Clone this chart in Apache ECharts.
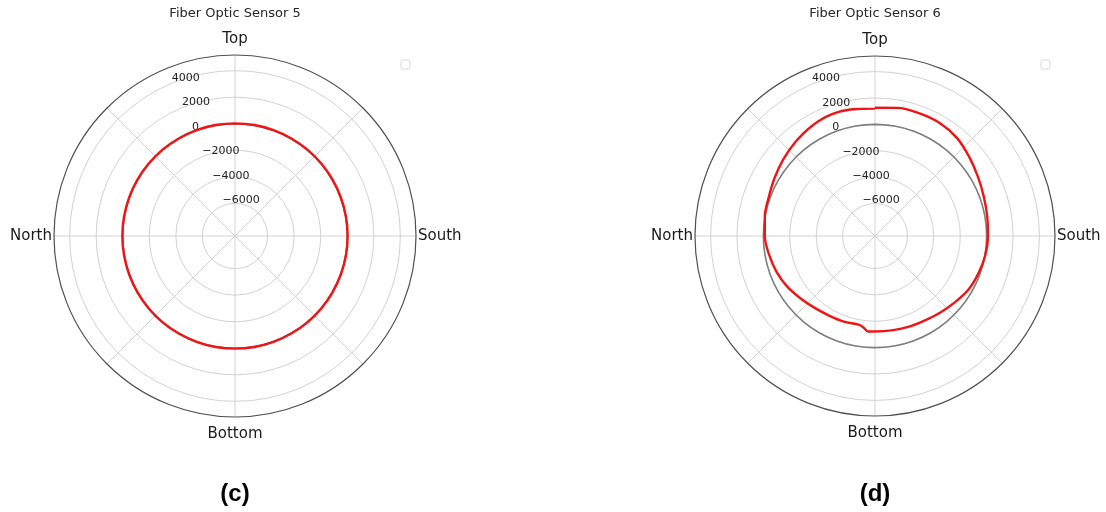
<!DOCTYPE html>
<html>
<head>
<meta charset="utf-8">
<script src="https://cdn.jsdelivr.net/npm/echarts@6/dist/echarts.min.js"></script>
<style>
  html, body { margin: 0; padding: 0; background: #fff; }
  #chart { width: 1106px; height: 512px; }
</style>
</head>
<body>
<div id="chart"></div>
<script>
// Bearing of each strain sample, degrees clockwise from "Top"
const sensor5Angles = [0, 10, 20, 30, 40, 50, 60, 70, 80, 90, 100, 110, 120, 130, 140, 150, 160, 170,
  180, 190, 200, 210, 220, 230, 240, 250, 260, 270, 280, 290, 300, 310, 320, 330, 340, 350, 360];
const sensor5Values = [30, 30, 30, 30, 30, 30, 30, 30, 30, 30, 30, 30, 30, 30, 30, 30, 30, 30,
  30, 30, 30, 30, 30, 30, 30, 30, 30, 30, 30, 30, 30, 30, 30, 30, 30, 30, 30];

const sensor6Angles = [0, 10, 20, 30, 40, 50, 60, 70, 80, 90, 100, 110, 120, 130, 140, 150, 160, 170,
  180, 184, 187, 190, 200, 210, 220, 230, 240, 250, 260, 270, 280, 290, 300, 310, 320, 330, 340, 350, 360];
const sensor6Values = [1260, 1400, 1420, 1400, 1220, 860, 540, 310, 170, 100, 20, -130, -300, -600, -850, -1040, -1130, -1200,
  -1220, -1200, -1450, -1620, -1560, -1500, -1350, -1100, -780, -520, -310, -110, 20, 110, 330, 600, 880, 1150, 1320, 1290, 1190];

// Zero-strain reference ring
const baselineAngles = sensor5Angles;
const baselineValues = [0, 0, 0, 0, 0, 0, 0, 0, 0, 0, 0, 0, 0, 0, 0, 0, 0, 0,
  0, 0, 0, 0, 0, 0, 0, 0, 0, 0, 0, 0, 0, 0, 0, 0, 0, 0, 0];

const radialTicks = [-6000, -4000, -2000, 0, 2000, 4000];
const directionLabels = { 0: '{t|Top}', 90: '{s|South}', 180: '{b|Bottom}', 270: '{n|North}' };
const panelTitles = ['Fiber Optic Sensor 5', 'Fiber Optic Sensor 6'];
const panelTags = ['(c)', '(d)'];

const RED = '#f01414';
const GRID = '#d2d2d2';
const TRANSPARENT = 'rgba(0,0,0,0)';

const pairs = (angles, values) => angles.map((a, i) => [values[i], a]);
const fmtRadial = v => radialTicks.includes(v) ? String(v).replace('-', '\u2212') : '';

const panels = [
  { cx: 235, r: 181, angles: sensor5Angles, values: sensor5Values, smooth: 0.5 },
  { cx: 875, r: 180, angles: sensor6Angles, values: sensor6Values, smooth: 0.35 }
];

const dirFont = { fontFamily: 'DejaVu Sans', fontSize: 15, color: '#1a1a1a' };

const polar = [], angleAxis = [], radiusAxis = [], series = [], graphic = [];

panels.forEach((p, i) => {
  polar.push({ center: [p.cx, 236], radius: p.r });

  // Spokes every 45 deg; the 22.5 deg offset puts the radial labels where they sit
  angleAxis.push({
    polarIndex: i,
    type: 'value',
    min: -22.5,
    max: 337.5,
    interval: 22.5,
    startAngle: 112.5,
    clockwise: true,
    axisLine: { show: true, lineStyle: { color: '#505050', width: 1.2 } },
    axisTick: { show: false },
    splitLine: { show: true, lineStyle: { color: [TRANSPARENT, GRID], width: 1 } },
    axisLabel: {
      formatter: v => directionLabels[v] || '',
      margin: 2,
      rich: {
        t: Object.assign({ padding: [0, 0, 6, 0] }, dirFont),
        b: Object.assign({ padding: [8, 0, 0, 0] }, dirFont),
        s: Object.assign({ padding: [0, 0, 0, 0] }, dirFont),
        n: Object.assign({ padding: [0, 0, 0, 0] }, dirFont)
      }
    }
  });

  radiusAxis.push({
    polarIndex: i,
    type: 'value',
    min: -8460,
    max: 5180,
    splitNumber: 7,
    axisLine: { show: false },
    axisTick: { show: false },
    splitLine: {
      show: true,
      lineStyle: { color: [TRANSPARENT, TRANSPARENT, GRID, GRID, GRID, GRID, GRID, GRID, TRANSPARENT], width: 1 }
    },
    axisLabel: {
      formatter: fmtRadial,
      align: 'left',
      verticalAlign: 'bottom',
      margin: 0,
      fontFamily: 'DejaVu Sans',
      fontSize: 11,
      color: '#222'
    }
  });

  series.push({
    type: 'line',
    coordinateSystem: 'polar',
    polarIndex: i,
    data: pairs(baselineAngles, baselineValues),
    showSymbol: false,
    smooth: 0.5,
    lineStyle: { color: '#7f7f7f', width: 1.6 },
    z: 3
  });
  series.push({
    type: 'line',
    coordinateSystem: 'polar',
    polarIndex: i,
    data: pairs(p.angles, p.values),
    showSymbol: false,
    smooth: p.smooth,
    lineStyle: { color: RED, width: 2.4 },
    z: 4
  });

  graphic.push({
    type: 'text', x: p.cx, y: 14,
    style: { text: panelTitles[i], font: '13px "DejaVu Sans"', fill: '#262626', align: 'center', verticalAlign: 'middle' }
  });
  graphic.push({
    type: 'text', x: p.cx, y: 494,
    style: { text: panelTags[i], font: 'bold 24px "Liberation Sans", Arial', fill: '#000', align: 'center', verticalAlign: 'middle' }
  });
  // empty legend frame
  graphic.push({
    type: 'rect', x: p.cx + 166, y: 60,
    shape: { width: 9, height: 9, r: 2 },
    style: { fill: '#fff', stroke: '#d8d8d8', lineWidth: 1 }
  });
});

const chart = echarts.init(document.getElementById('chart'), null, { renderer: 'canvas' });
chart.setOption({
  animation: false,
  backgroundColor: '#fff',
  polar, angleAxis, radiusAxis, series, graphic
});
</script>
</body>
</html>
